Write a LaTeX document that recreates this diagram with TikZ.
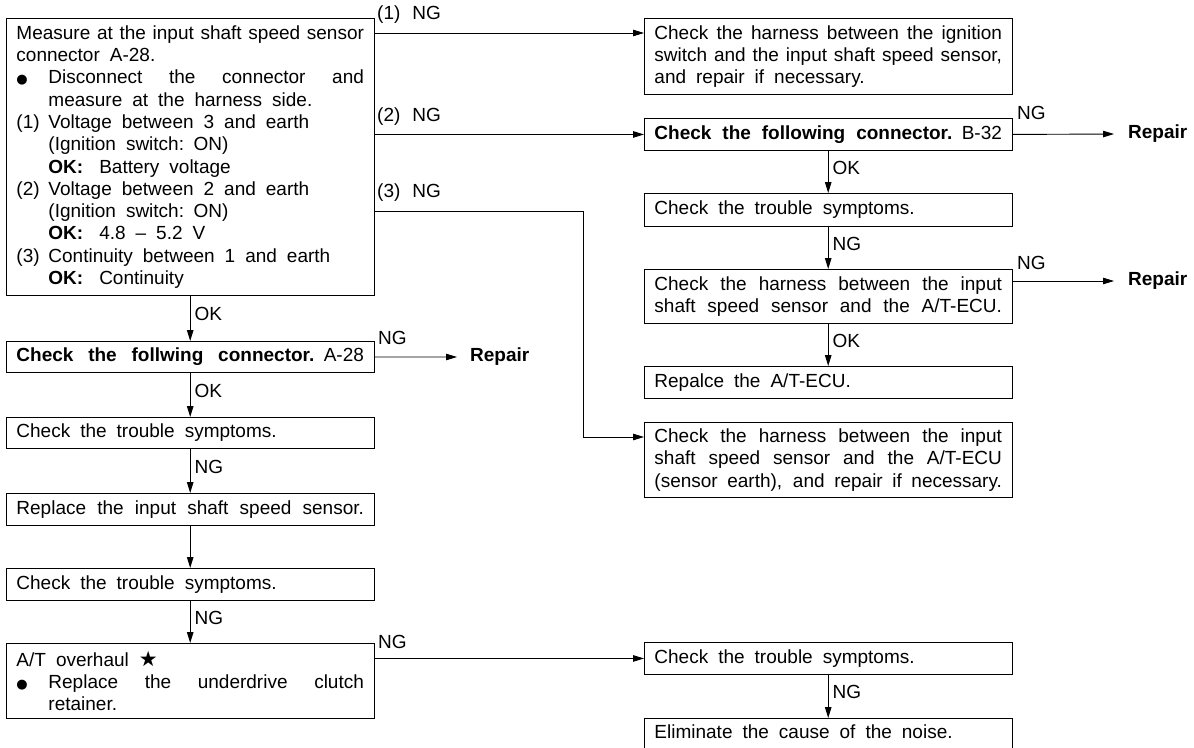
\documentclass[tikz,border=0pt]{standalone}
\usepackage{fontspec}
\setmainfont{Liberation Sans}
\newfontfamily\symfont{DejaVu Sans}
\usetikzlibrary{arrows.meta}

% body text: size and leading
\newcommand\mainfs{\fontsize{19}{22.3}\selectfont}
% wide word spacing used throughout the boxes
\newcommand\ws{\spaceskip=10pt plus 4pt minus 4pt\relax}
% width of the text inside every box
\newcommand\boxtw{347.5pt}
% a line stretched to the full text width (word spaces fill it)
\newcommand\jl[1]{\leavevmode\hbox to \boxtw{\spaceskip=5pt plus 1fil minus 1pt\relax #1}}
% bullet and star glyphs
\newcommand\bul{{\symfont\fontsize{13}{13}\selectfont ●}}
\newcommand\starmark{{\symfont\fontsize{21}{21}\selectfont ★}}
% hanging indent for list items
\newcommand\ind{\hspace*{32pt}}
\newcommand\hitem[2]{\leavevmode\hbox to 32pt{#1\hss}#2}

\tikzset{
  box/.style={draw, line width=0.9pt, anchor=north west, inner xsep=10pt,
    inner ysep=0pt, align=left, font=\mainfs, text width=\boxtw},
  lab/.style={font=\mainfs, inner sep=0pt, anchor=west},
  rep/.style={font=\mainfs\bfseries, inner sep=0pt, anchor=west},
  arr/.style={line width=0.9pt, -{Triangle[length=11pt,width=6.5pt]}},
  vlab/.style={font=\mainfs, inner sep=0pt, anchor=west, xshift=4pt, pos=0.4}
}

\begin{document}
\begin{tikzpicture}[x=1pt, y=-1pt]
\useasboundingbox (0,0) rectangle (1194,747);

% ---------- left column ----------
\node[box, minimum height=277pt] (B1) at (6,18) {\ws
\jl{Measure at the input shaft speed sensor}\\
connector A-28.\\
\jl{\hbox to 32pt{\bul\hss}Disconnect the connector and}\\
\ind measure at the harness side.\\
\hitem{(1)}{Voltage between 3 and earth}\\
\ind(Ignition switch: ON)\\
\ind\textbf{OK:}\hspace{16pt}Battery voltage\\
\hitem{(2)}{Voltage between 2 and earth}\\
\ind(Ignition switch: ON)\\
\ind\textbf{OK:}\hspace{16pt}4.8 \textendash{} 5.2 V\\
\hitem{(3)}{Continuity between 1 and earth}\\
\ind\textbf{OK:}\hspace{16pt}Continuity};

\node[box, minimum height=31pt] (L2) at (6,341)
  {\jl{\textbf{Check the follwing connector.} A-28}};
\node[box, minimum height=31pt] (L3) at (6,417) {\ws Check the trouble symptoms.};
\node[box, minimum height=32pt] (L4) at (6,493) {\jl{Replace the input shaft speed sensor.}};
\node[box, minimum height=32pt] (L5) at (6,568) {\ws Check the trouble symptoms.};
\node[box, minimum height=75pt] (L6) at (6,643) {\ws
A/T overhaul \starmark\\
\jl{\hbox to 32pt{\bul\hss}Replace the underdrive clutch}\\
\ind retainer.};

% ---------- right column ----------
\node[box, minimum height=76pt] (R1) at (644,18) {\ws
\jl{Check the harness between the ignition}\\
\jl{switch and the input shaft speed sensor,}\\
and repair if necessary.};
\node[box, minimum height=32pt] (R2) at (644,118)
  {\jl{\textbf{Check the following connector.} B-32}};
\node[box, minimum height=33pt] (R3) at (644,193) {\ws Check the trouble symptoms.};
\node[box, minimum height=54pt] (R4) at (644,269) {%
\jl{Check the harness between the input}\\
\jl{shaft speed sensor and the A/T-ECU.}};
\node[box, minimum height=32pt] (R5) at (644,366) {\ws Repalce the A/T-ECU.};
\node[box, minimum height=75pt] (R6) at (644,422) {%
\jl{Check the harness between the input}\\
\jl{shaft speed sensor and the A/T-ECU}\\
\jl{(sensor earth), and repair if necessary.}};
\node[box, minimum height=32pt] (R7) at (644,642) {\ws Check the trouble symptoms.};
\node[box, minimum height=40pt, text height=19pt, text depth=19pt] (R8) at (644,718)
  {\ws Eliminate the cause of the noise.};

% ---------- repair targets ----------
\node[rep] (rep1) at (470,357) {Repair};
\node[rep] (rep2) at (1128,134) {Repair};
\node[rep] (rep3) at (1128,281) {Repair};

% ---------- branch labels ----------
\node[lab] (ng1) at (377,15) {(1)\hspace{12pt}NG};
\node[lab] (ng2) at (377,117) {(2)\hspace{12pt}NG};
\node[lab] (ng3) at (377,193) {(3)\hspace{12pt}NG};
\node[lab] (ngL2) at (378,338) {NG};
\node[lab] (ngL6) at (378,642) {NG};
\node[lab] (ngR2) at (1017,113) {NG};
\node[lab] (ngR4) at (1017,263) {NG};

% ---------- routing points ----------
\coordinate (y1) at (0,33);
\coordinate (k3) at (583,211);
\coordinate (k6) at (583,437);
\coordinate (yr4) at (0,281);

% ---------- connectors ----------
\draw[arr] (B1.east |- y1) -- (R1.west |- y1);
\draw[arr] (B1.east |- R2.west) -- (R2.west);
\draw[arr] (B1.east |- k3) -- (k3) -- (k6) -- (R6.west |- k6);

\draw[arr] (B1.south) -- node[vlab] {OK} (L2.north);
\draw[arr] (L2.south) -- node[vlab] {OK} (L3.north);
\draw[arr] (L3.south) -- node[vlab] {NG} (L4.north);
\draw[arr] (L4.south) -- (L5.north);
\draw[arr] (L5.south) -- node[vlab] {NG} (L6.north);
\draw[arr] (L2.east) -- ([xshift=-13pt]rep1.west);
\draw[arr] (L6.east |- R7.west) -- (R7.west);

\draw[arr] (R2.east) -- ([xshift=-14pt]rep2.west);
\draw[arr] (R4.east |- yr4) -- ([xshift=-14pt]rep3.west);
\draw[arr] (R2.south) -- node[vlab] {OK} (R3.north);
\draw[arr] (R3.south) -- node[vlab] {NG} (R4.north);
\draw[arr] (R4.south) -- node[vlab] {OK} (R5.north);
\draw[arr] (R7.south) -- node[vlab] {NG} (R8.north);
\end{tikzpicture}
\end{document}
